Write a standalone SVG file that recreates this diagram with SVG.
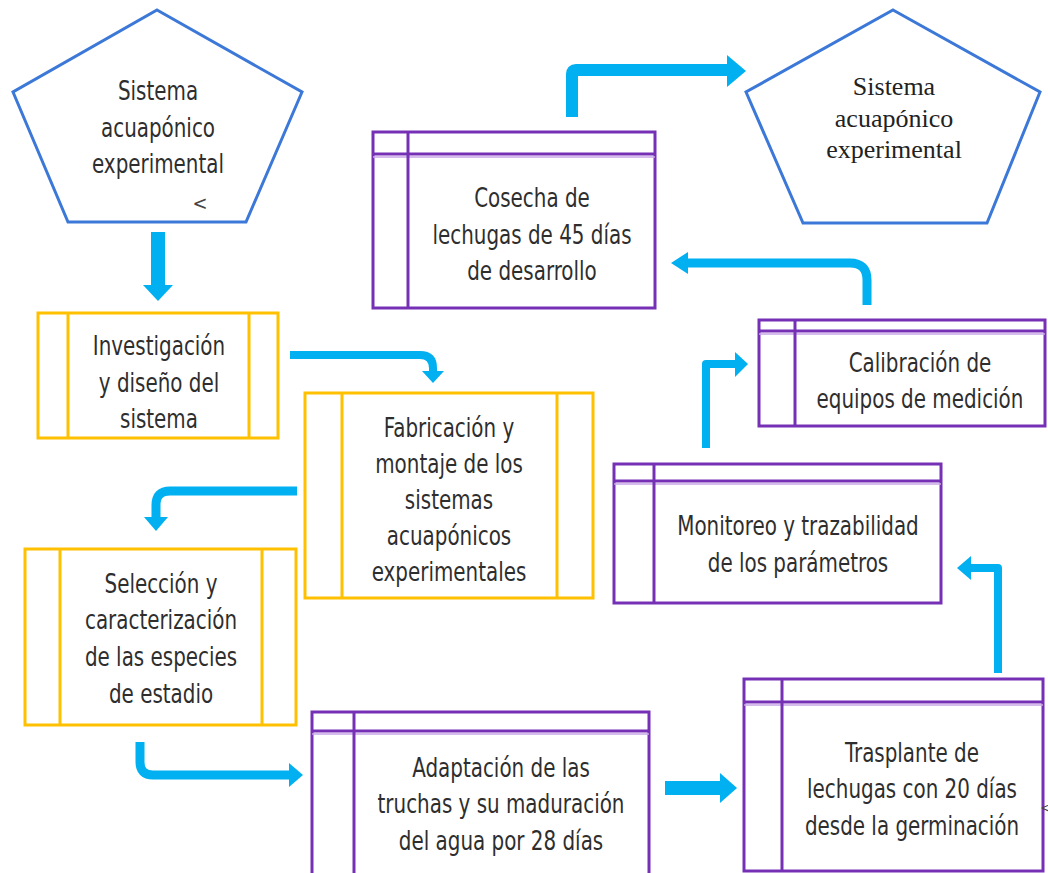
<svg xmlns="http://www.w3.org/2000/svg" width="1048" height="873" viewBox="0 0 1048 873">
<style>
.bg{fill:#ffffff}
.pent{fill:#ffffff;stroke:#3c78d8;stroke-width:3;stroke-linejoin:miter}
.yb{fill:#ffffff;stroke:#ffc000;stroke-width:3}
.yl{stroke:#ffc000;stroke-width:3}
.pb{fill:#ffffff;stroke:#7530b5;stroke-width:3}
.pl{stroke:#7530b5;stroke-width:3}
.pl2{stroke:#c7a6e6;stroke-width:1.5}
.t{font-family:"Liberation Sans Narrow","DejaVu Sans Condensed","Roboto Condensed",sans-serif;font-size:27px;fill:#2e2e2e;text-anchor:middle}
.ts{font-family:"Liberation Serif","Times New Roman",serif;font-size:26px;fill:#222222;text-anchor:middle}
.sm{font-family:"DejaVu Sans Condensed","DejaVu Sans",sans-serif;font-size:20px;fill:#444444;text-anchor:middle}
.c{fill:none;stroke:#00b0f0;stroke-linejoin:round}
.h{fill:#00b0f0}
</style>
<rect class="bg" x="0" y="0" width="1048" height="873"/>

<g id="connectors">
  <rect class="h" x="151" y="232" width="14" height="55"/>
  <polygon class="h" points="143,285 173,285 158,301"/>

  <path class="c" stroke-width="8" d="M290,355 H420 Q433,355 433,368 V373"/>
  <polygon class="h" points="422,371 444,371 433,383"/>

  <path class="c" stroke-width="9" d="M297,491 H170 Q156,491 156,505 V519"/>
  <polygon class="h" points="144,517 168,517 156,531"/>

  <path class="c" stroke-width="9" d="M140,742 V762 Q140,775 153,775 H291"/>
  <polygon class="h" points="289,763 289,787 303,775"/>

  <rect class="h" x="665" y="781" width="57" height="14"/>
  <polygon class="h" points="720,773 720,803 737,788"/>

  <path class="c" stroke-width="8" stroke-linejoin="miter" d="M998,673 V568 H971"/>
  <polygon class="h" points="971,556 971,580 957,568"/>

  <path class="c" stroke-width="8" stroke-linejoin="miter" d="M706,448 V364 H737"/>
  <polygon class="h" points="735,352 735,377 748,364"/>

  <path class="c" stroke-width="9" d="M867,305 V280 Q867,263 850,263 H686"/>
  <polygon class="h" points="688,252 688,274 671,263"/>

  <path class="c" stroke-width="12" d="M572,117 V74 Q572,70 576,70 H729"/>
  <polygon class="h" points="727,55 727,87 746,71"/>
</g>

<g id="pent-left">
  <polygon class="pent" points="157,10 302,92 246,222 68,222 13,92"/>
  <g transform="translate(158,0) scale(0.82,1)">
    <text class="t" x="0" y="100">Sistema</text>
    <text class="t" x="0" y="137">acuapónico</text>
    <text class="t" x="0" y="173">experimental</text>
  </g>
  <text class="sm" x="200" y="210">&lt;</text>
</g>

<g id="pent-right">
  <polygon class="pent" points="893,10 1040,92 987,223 803,223 746,92"/>
  <text class="ts" x="894" y="95">Sistema</text>
  <text class="ts" x="894" y="127">acuapónico</text>
  <text class="ts" x="894" y="158">experimental</text>
</g>

<g id="investigacion">
  <rect class="yb" x="38" y="313" width="240" height="125"/>
  <line class="yl" x1="68" y1="313" x2="68" y2="438"/>
  <line class="yl" x1="249" y1="313" x2="249" y2="438"/>
  <g transform="translate(159,0) scale(0.82,1)">
    <text class="t" x="0" y="355">Investigación</text>
    <text class="t" x="0" y="392">y diseño del</text>
    <text class="t" x="0" y="428">sistema</text>
  </g>
</g>

<g id="fabricacion">
  <rect class="yb" x="305" y="393" width="288" height="205"/>
  <line class="yl" x1="342" y1="393" x2="342" y2="598"/>
  <line class="yl" x1="557" y1="393" x2="557" y2="598"/>
  <g transform="translate(449,0) scale(0.82,1)">
    <text class="t" x="0" y="437">Fabricación y</text>
    <text class="t" x="0" y="473">montaje de los</text>
    <text class="t" x="0" y="509">sistemas</text>
    <text class="t" x="0" y="545">acuapónicos</text>
    <text class="t" x="0" y="581">experimentales</text>
  </g>
</g>

<g id="seleccion">
  <rect class="yb" x="25" y="549" width="271" height="176"/>
  <line class="yl" x1="60" y1="549" x2="60" y2="725"/>
  <line class="yl" x1="262" y1="549" x2="262" y2="725"/>
  <g transform="translate(161,0) scale(0.82,1)">
    <text class="t" x="0" y="593">Selección y</text>
    <text class="t" x="0" y="629">caracterización</text>
    <text class="t" x="0" y="666">de las especies</text>
    <text class="t" x="0" y="703">de estadio</text>
  </g>
</g>

<g id="cosecha">
  <rect class="pb" x="373" y="132" width="282" height="176"/>
  <line class="pl" x1="373" y1="154" x2="655" y2="154"/>
  <line class="pl2" x1="373" y1="157" x2="655" y2="157"/>
  <line class="pl" x1="408" y1="132" x2="408" y2="308"/>
  <g transform="translate(532,0) scale(0.82,1)">
    <text class="t" x="0" y="207">Cosecha de</text>
    <text class="t" x="0" y="244">lechugas de 45 días</text>
    <text class="t" x="0" y="280">de desarrollo</text>
  </g>
</g>

<g id="calibracion">
  <rect class="pb" x="759" y="320" width="286" height="106"/>
  <line class="pl" x1="759" y1="331" x2="1045" y2="331"/>
  <line class="pl2" x1="759" y1="334" x2="1045" y2="334"/>
  <line class="pl" x1="795" y1="320" x2="795" y2="426"/>
  <g transform="translate(920,0) scale(0.82,1)">
    <text class="t" x="0" y="372">Calibración de</text>
    <text class="t" x="0" y="408">equipos de medición</text>
  </g>
</g>

<g id="monitoreo">
  <rect class="pb" x="614" y="464" width="327" height="139"/>
  <line class="pl" x1="614" y1="481" x2="941" y2="481"/>
  <line class="pl2" x1="614" y1="484" x2="941" y2="484"/>
  <line class="pl" x1="654" y1="464" x2="654" y2="603"/>
  <g transform="translate(798,0) scale(0.82,1)">
    <text class="t" x="0" y="535">Monitoreo y trazabilidad</text>
    <text class="t" x="0" y="572">de los parámetros</text>
  </g>
</g>

<g id="adaptacion">
  <rect class="pb" x="312" y="712" width="337" height="170"/>
  <line class="pl" x1="312" y1="731" x2="649" y2="731"/>
  <line class="pl2" x1="312" y1="734" x2="649" y2="734"/>
  <line class="pl" x1="354" y1="712" x2="354" y2="882"/>
  <g transform="translate(501,0) scale(0.82,1)">
    <text class="t" x="0" y="777">Adaptación de las</text>
    <text class="t" x="0" y="813">truchas y su maduración</text>
    <text class="t" x="0" y="850">del agua por 28 días</text>
  </g>
</g>

<g id="trasplante">
  <rect class="pb" x="744" y="679" width="299" height="192"/>
  <line class="pl" x1="744" y1="702" x2="1043" y2="702"/>
  <line class="pl2" x1="744" y1="705" x2="1043" y2="705"/>
  <line class="pl" x1="782" y1="679" x2="782" y2="871"/>
  <g transform="translate(912,0) scale(0.82,1)">
    <text class="t" x="0" y="762">Trasplante de</text>
    <text class="t" x="0" y="798">lechugas con 20 días</text>
    <text class="t" x="0" y="835">desde la germinación</text>
  </g>
  <text class="sm" x="1045" y="812" style="font-size:12px">&lt;</text>
</g>
</svg>
